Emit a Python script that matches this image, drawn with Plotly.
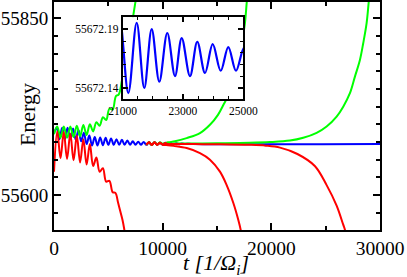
import plotly.graph_objects as go

# ---------------- data ----------------
# blue: reference run, damped oscillation settling to a constant energy
blue_t = [0, 250, 500, 750, 1000, 1250, 1500, 1750, 2000, 2250, 2500, 2750,
          3000, 3250, 3500, 3750, 4000, 4250, 4500, 4750, 5000, 5250, 5500,
          5750, 6000, 6250, 6500, 6750, 7000, 7250, 7500, 7750, 8000, 8250,
          8500, 8750, 9000, 9250, 9500, 9750, 10000, 10250, 10500, 10750,
          11000, 11250, 11500, 11750, 12000, 12250, 12750, 30000]
blue_energy = [55688, 55695, 55679, 55695, 55679, 55695, 55679, 55694, 55678,
               55692, 55676, 55688, 55672, 55684, 55670, 55682, 55670,
               55681.5, 55670.5, 55681, 55671, 55680, 55671, 55679, 55671,
               55678, 55671, 55677, 55671, 55676, 55671, 55675.5, 55671,
               55675, 55671, 55674.5, 55671, 55674.5, 55671.2, 55674,
               55671.3, 55673.8, 55671.5, 55673.5, 55671.6, 55673.2,
               55671.8, 55673, 55672, 55672.6, 55672.2, 55672.2]

# green runs (growing energy)
green1_t = [0, 300, 600, 900, 1200, 1500, 1800, 2100, 2400, 2700, 3000, 3300,
            3600, 3900, 4200, 4500, 4800, 5100, 5400, 5700, 5950, 6250, 6550,
            6850, 7150, 7450, 7750]
green1_energy = [55686, 55697, 55681, 55697, 55681, 55697, 55682, 55698, 55683,
                 55699, 55685, 55700, 55690, 55703, 55698, 55710, 55706, 55722,
                 55721, 55740, 55742, 55762, 55790, 55815, 55840, 55869, 55895]

green2_t = [8500, 8750, 9000, 9250, 9500, 9750, 10000, 10500, 11132, 12208,
            13432, 14352, 15088, 15640, 16192, 16652, 17020, 17296, 17572,
            17756, 17900]
green2_energy = [55671, 55674.5, 55671, 55674.5, 55671.5, 55674.5, 55672.5,
                 55674.5, 55676, 55680.5, 55687.6, 55699.3, 55713.4, 55729,
                 55745.9, 55767.1, 55791.1, 55815.1, 55843.4, 55875.8, 55895]

green3_t = [8500, 8750, 9000, 9250, 9500, 9750, 10000, 10250, 10500, 11000,
            13000, 15000, 18000, 19872, 21712, 22936, 24168, 25088, 26008,
            26616, 27232, 27692, 28152, 28456, 28768, 28980, 29150]
green3_energy = [55671, 55674.5, 55671, 55674.5, 55671.2, 55674, 55671.5,
                 55673.5, 55672, 55672.8, 55672.9, 55673.2, 55673.8, 55674.8,
                 55677, 55681, 55688, 55697, 55711, 55725, 55744, 55767.5,
                 55791, 55814.7, 55843, 55875.8, 55900]

# red runs (decaying energy)
red1_t = [0, 300, 600, 900, 1200, 1500, 1800, 2100, 2400, 2700, 3000, 3300,
          3600, 3900, 4200, 4500, 4800, 5100, 5400, 5650, 5900, 6100, 6300,
          6450, 6600]
red1_energy = [55633, 55690, 55652, 55689, 55651, 55687, 55649, 55684, 55646,
               55679, 55643, 55672, 55641, 55653, 55633, 55638, 55619, 55620,
               55604, 55603, 55589, 55577, 55565, 55553, 55538]

red2_t = [8500, 8750, 9000, 9250, 9500, 9750, 10000, 10500, 11000, 12208,
          13432, 14352, 15272, 15888, 16496, 16956, 17176, 17350]
red2_energy = [55671, 55674.5, 55671, 55674.5, 55671, 55673.5, 55671, 55670.5,
               55669.5, 55666.4, 55659.3, 55650, 55633, 55614, 55589, 55565,
               55551, 55535]

red3_t = [8500, 8750, 9000, 9250, 9500, 9750, 10000, 10250, 10500, 11000,
          13000, 15000, 18000, 19500, 20800, 22400, 24000, 25088, 26008,
          26616, 26772, 26950]
red3_energy = [55671, 55674.5, 55671, 55674.5, 55671.2, 55674, 55671.5,
               55673.5, 55672, 55672.2, 55672, 55671.8, 55671, 55669.8,
               55667, 55658, 55641, 55614, 55585, 55558, 55551, 55535]

# inset: zoom on the blue run
inset_t = [20630, 20908, 21186, 21464, 21716, 21962, 22214, 22479, 22735,
           22957, 23232, 23474, 23730, 23985, 24250, 24502, 24758, 25030,
           25290]
inset_energy = [55672.133, 55672.197, 55672.136, 55672.1956, 55672.1403,
                55672.1902, 55672.1456, 55672.1869, 55672.1504, 55672.1826,
                55672.1504, 55672.1795, 55672.153, 55672.1775, 55672.1549,
                55672.175, 55672.1549, 55672.1745, 55672.156]

# ---------------- figure ----------------
BLUE, GREEN, RED = "#0000ff", "#00ff00", "#ff0000"
fig = go.Figure()


def add(t, e, color, xa="x", ya="y", w=2):
    fig.add_trace(go.Scatter(x=t, y=e, mode="lines", xaxis=xa, yaxis=ya,
                             line=dict(color=color, width=w, shape="spline"),
                             hoverinfo="skip"))


add(blue_t, blue_energy, BLUE)
add(green1_t, green1_energy, GREEN)
add(green2_t, green2_energy, GREEN)
add(green3_t, green3_energy, GREEN)
add(red1_t, red1_energy, RED)
add(red2_t, red2_energy, RED)
add(red3_t, red3_energy, RED)
add(inset_t, inset_energy, BLUE, "x2", "y2", 2.2)

FONT = "Liberation Serif"
axis_common = dict(showline=True, linewidth=2, linecolor="black",
                   mirror="ticks", showgrid=False, zeroline=False,
                   ticks="inside", tickcolor="black", tickwidth=1.5,
                   automargin=False)

fig.update_layout(
    width=407, height=277,
    margin=dict(l=54, r=27, t=2, b=47),
    paper_bgcolor="white", plot_bgcolor="white",
    showlegend=False,
    font=dict(family=FONT, color="black"),
    xaxis=dict(range=[0, 30000], tick0=0, dtick=10000, ticklen=7,
               tickformat="d",
               tickfont=dict(size=19.5, family=FONT),
               minor=dict(dtick=5000, ticks="inside", ticklen=4,
                          tickcolor="black", tickwidth=1.5),
               **axis_common),
    yaxis=dict(range=[55550.5, 55873], tick0=55600, dtick=250, ticklen=7,
               tickformat="d",
               tickfont=dict(size=19, family=FONT),
               minor=dict(dtick=25, ticks="inside", ticklen=4,
                          tickcolor="black", tickwidth=1.5),
               **axis_common),
    xaxis2=dict(domain=[0.2107, 0.5807], anchor="y2", range=[21000, 25000],
                tick0=21000, dtick=2000, ticklen=5, tickformat="d",
                tickfont=dict(size=11.5, family=FONT),
                minor=dict(dtick=500, ticks="inside", ticklen=3,
                           tickcolor="black", tickwidth=1),
                **axis_common),
    yaxis2=dict(domain=[0.5732, 0.9329], anchor="x2",
                range=[55672.1307, 55672.2002], tick0=55672.14, dtick=0.05,
                tickformat=".2f", ticklen=5,
                tickfont=dict(size=11.5, family=FONT),
                minor=dict(dtick=0.01, ticks="inside", ticklen=3,
                           tickcolor="black", tickwidth=1),
                **axis_common),
    shapes=[dict(type="rect", xref="x2", yref="y2", x0=21000, x1=25000,
                 y0=55672.1307, y1=55672.2002, fillcolor="white",
                 line=dict(width=0), layer="below")],
    annotations=[
        dict(text="Energy", textangle=-90, xref="paper", yref="paper",
             x=-0.0828, y=0.504, xanchor="center", yanchor="middle",
             showarrow=False, font=dict(size=22, family=FONT)),
        dict(text="<i>t [1/Ω<sub>i</sub>]</i>", xref="paper", yref="paper",
             x=0.497, y=-0.148, xanchor="center", yanchor="middle",
             showarrow=False, font=dict(size=22, family=FONT)),
    ],
)

fig.write_html(
    "out.html",
    config={"displayModeBar": False},
    post_script="document.body.style.margin='0px';"
                "document.body.style.overflow='hidden';",
)
